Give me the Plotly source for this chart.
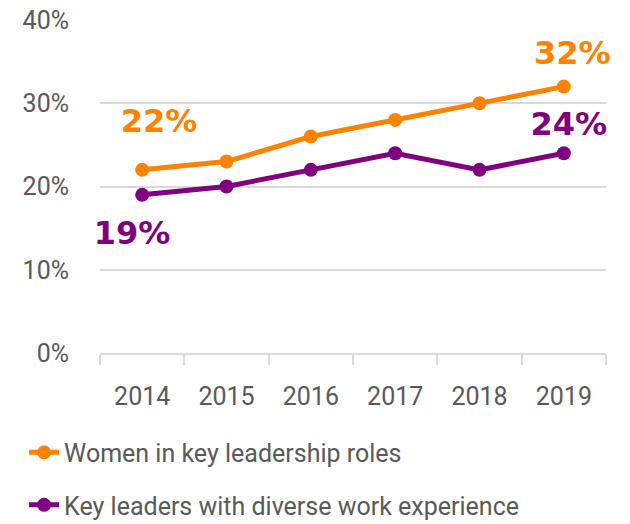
import plotly.graph_objects as go

years = ["2014", "2015", "2016", "2017", "2018", "2019"]
women_leaders = [22, 23, 26, 28, 30, 32]
diverse_experience = [19, 20, 22, 24, 22, 24]
series_names = ["Women in key leadership roles", "Key leaders with diverse work experience"]
y_ticks = [0, 10, 20, 30, 40]

PCT = "&#37;"
ORANGE = "#FF8200"
PURPLE = "#80007F"
GREY = "#595959"
GRID = "#D9D9D9"
FONT = "Roboto, sans-serif"
BOLD = "DejaVu Sans, Liberation Sans, sans-serif"

xpos = list(range(len(years)))

fig = go.Figure()
for name, vals, col in [
    (series_names[0], women_leaders, ORANGE),
    (series_names[1], diverse_experience, PURPLE),
]:
    fig.add_trace(go.Scatter(
        x=xpos, y=vals, name=name, mode="lines+markers",
        line=dict(color=col, width=5),
        marker=dict(color=col, size=14),
        legendgroup=name,
    ))

# value callouts at first and last year: (index, series, colour, x offset, y offset)
callouts = [
    (0, women_leaders, ORANGE, 0.20, 5.5),
    (5, women_leaders, ORANGE, 0.10, 3.7),
    (5, diverse_experience, PURPLE, 0.06, 3.1),
    (0, diverse_experience, PURPLE, -0.12, -5.0),
]
for idx, vals, col, dx, dy in callouts:
    fig.add_trace(go.Scatter(
        x=[xpos[idx] + dx], y=[vals[idx] + dy], mode="text",
        text=[f"<b>{vals[idx]}{PCT}</b>"], textposition="middle center",
        textfont=dict(family=BOLD, size=32, color=col),
        showlegend=False, hoverinfo="skip", cliponaxis=False,
    ))

boundaries = [i - 0.5 for i in range(len(years) + 1)]

fig.update_layout(
    width=630, height=524,
    margin=dict(l=100, r=24, t=20, b=171, autoexpand=False),
    paper_bgcolor="white", plot_bgcolor="white",
    font=dict(family=FONT, color=GREY, size=25),
    showlegend=True,
    legend=dict(
        orientation="v", x=-0.15, xanchor="left", y=-0.23, yanchor="top",
        font=dict(family=FONT, size=25, color=GREY),
        tracegroupgap=17, itemwidth=30,
        bgcolor="rgba(0,0,0,0)",
    ),
    xaxis=dict(
        range=[-0.5, 5.5], tickvals=xpos, ticktext=years,
        showgrid=False, showline=True, linecolor=GRID, linewidth=2, zeroline=False,
        ticks="",
        minor=dict(tickvals=boundaries, ticks="outside", ticklen=10, tickcolor=GRID,
                   tickwidth=2, showgrid=False),
        tickfont=dict(family=FONT, size=25, color=GREY),
        ticklabelstandoff=20,
    ),
    yaxis=dict(
        range=[0, 40], tickvals=y_ticks, ticktext=[f"{v}{PCT}" for v in y_ticks],
        showgrid=True, gridcolor=GRID, gridwidth=2, zeroline=False, showline=False,
        tickfont=dict(family=FONT, size=25, color=GREY),
        ticklabelstandoff=30,
    ),
)

fig.write_html("out.html")
